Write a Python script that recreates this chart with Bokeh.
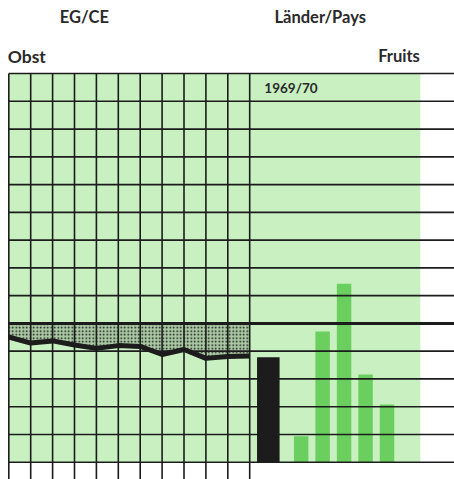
from bokeh.plotting import figure
from bokeh.models import Range1d, Label
from bokeh.embed import file_html
from bokeh.resources import INLINE

# ---- data ----
years = [1958, 1959, 1960, 1961, 1962, 1963, 1964, 1965, 1966, 1967, 1968, 1969]
eg_values = [90.2, 85.8, 87.4, 84.4, 82.0, 84.0, 83.4, 77.6, 81.2, 74.8, 76.2, 76.6]
reference_level = 100
grid_levels = [0, 20, 40, 60, 80, 100, 120, 140, 160, 180, 200, 220, 240, 260, 280]
eg_bar_value = 75.6
countries = ["D", "F", "I", "NL", "UEBL"]
country_values = [18.7, 94.2, 128.5, 63.2, 41.6]

# ---- layout (scale) ----
W, H = 454, 479
px_year = 21.9
px_unit = 27.76 / 20.0
x0 = years[0] - 8.3 / px_year
x1 = x0 + W / px_year
y0 = -17.3 / px_unit
y1 = y0 + H / px_unit
panel_end = years[-1] + 7.79

BG = "#c8f0c0"
BAR = "#6acf5f"
INK = "#1c1c1c"

p = figure(width=W, height=H, x_range=Range1d(x0, x1), y_range=Range1d(y0, y1),
           output_backend="svg", toolbar_location=None,
           x_axis_location=None, y_axis_location=None, min_border=0)
p.outline_line_color = None
p.grid.visible = False
p.background_fill_color = "white"
p.border_fill_color = "white"

# green background of both panels
p.quad(left=[years[0]], right=[panel_end], bottom=[grid_levels[0]], top=[grid_levels[-1]],
       fill_color=BG, line_color=None)

# hatched band between 100 line and EG series
p.varea(x=years, y1=eg_values, y2=[reference_level] * len(years),
        fill_color="#a9c8a3", hatch_pattern="dot", hatch_color="#111111",
        hatch_scale=3.5, hatch_weight=2.5)

# bars
first = years[-1]
p.vbar(x=[first + 0.85], top=[eg_bar_value], bottom=0, width=1.03,
       fill_color=INK, line_color=None)
green_x = [first + 2.35 + i * 0.98 for i in range(len(countries))]
p.vbar(x=green_x, top=country_values, bottom=0, width=0.66,
       fill_color=BAR, line_color=None)

# horizontal grid lines
p.segment(x0=[years[0]] * len(grid_levels), x1=[x1] * len(grid_levels),
          y0=grid_levels, y1=grid_levels, line_color=INK, line_width=1.6)
# vertical lines in left panel
p.segment(x0=years, x1=years, y0=[grid_levels[-1]] * len(years), y1=[y0] * len(years),
          line_color=INK, line_width=1.6)
# thick reference line
p.segment(x0=[years[0]], x1=[x1], y0=[reference_level], y1=[reference_level],
          line_color=INK, line_width=3)

# EG series line
p.line(years, eg_values, line_color=INK, line_width=5, line_join="round")

def lab(text, x, y, align="left", size="16.5px"):
    p.add_layout(Label(x=x, y=y, text=text, text_font="Lato", text_font_style="bold",
                       text_font_size=size, text_color="#2a2a2a", text_align=align,
                       text_baseline="alphabetic"))

lab("EG/CE", 1961.45, 321, "center")
lab("Länder/Pays", 1972.22, 321, "center")
lab("Obst", years[0] - 0.05, 292, "left", "17.5px")
lab("Fruits", 1976.77, 293, "right")
lab("1969/70", 1969.67, 269.5, "left", "13.5px")

open("out.html", "w").write(file_html(p, INLINE))
